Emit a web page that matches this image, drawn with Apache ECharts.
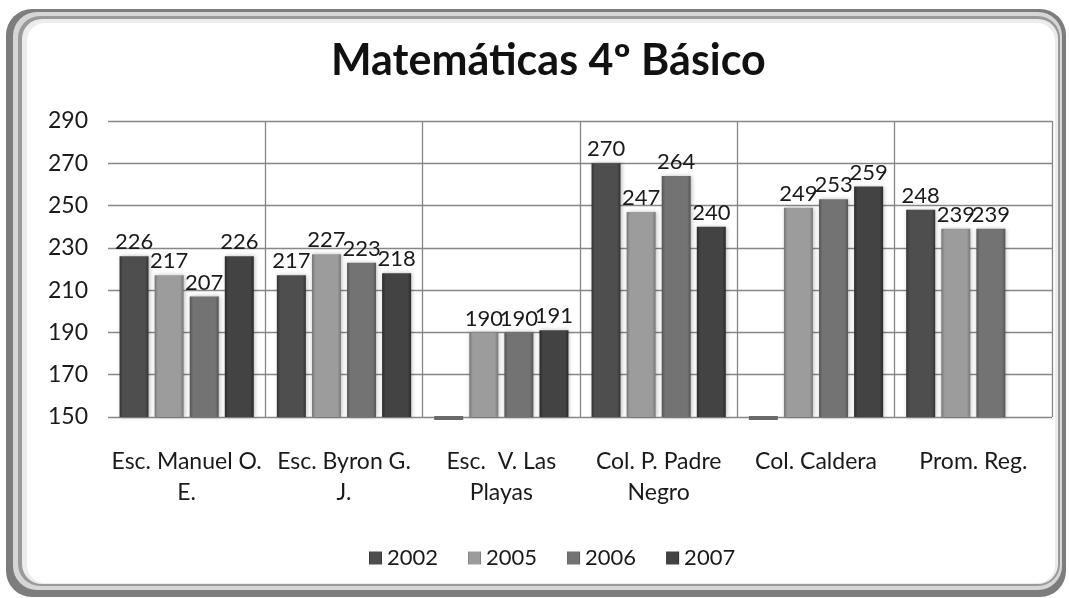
<!DOCTYPE html>
<html>
<head>
<meta charset="utf-8">
<title>Matemáticas 4º Básico</title>
<script src="https://cdn.jsdelivr.net/npm/echarts@6/dist/echarts.min.js"></script>
<style>
  html, body { margin: 0; padding: 0; background: #fff; }
  #chart { width: 1069px; height: 598px; }
</style>
</head>
<body>
<div id="chart"></div>
<script>
// categorias (escuelas) y puntajes por año
var schools = ['Esc. Manuel O.\nE.', 'Esc. Byron G.\nJ.', 'Esc.  V. Las\nPlayas', 'Col. P. Padre\nNegro', 'Col. Caldera', 'Prom. Reg.']
var years = ['2002', '2005', '2006', '2007']
// 150 = sin dato (barra plana en la base), null = sin barra
var y2002 = [226, 217, 150, 270, 150, 248]
var y2005 = [217, 227, 190, 247, 249, 239]
var y2006 = [207, 223, 190, 264, 253, 239]
var y2007 = [226, 218, 191, 240, 259, null]
var yTicks = [150, 170, 190, 210, 230, 250, 270, 290]

var font = 'Lato, "Open Sans", sans-serif'
var barW = 29

function barColor(base, edge) {
  return {
    type: 'linear', x: 0, y: 0, x2: 1, y2: 0,
    colorStops: [
      { offset: 0, color: edge },
      { offset: 0.12, color: base },
      { offset: 0.5, color: base },
      { offset: 0.88, color: base },
      { offset: 1, color: edge }
    ]
  }
}

var colors = [
  barColor('#4e4e4e', '#333'),
  barColor('#9c9c9c', '#777'),
  barColor('#737373', '#555'),
  barColor('#434343', '#2a2a2a')
]
var legendColors = ['#4a4a4a', '#969696', '#6e6e6e', '#3f3f3f']

function makeSeries(name, data, i) {
  // sin dato: una tapa plana sobre la base, como en la planilla
  var flat = []
  data.forEach(function (v, k) {
    if (v === yTicks[0]) flat.push({ coord: [k, v] })
  })
  return {
    name: name,
    type: 'bar',
    data: data,
    barWidth: barW,
    barGap: '21%',
    itemStyle: {
      color: colors[i],
      shadowColor: 'rgba(0,0,0,0.25)',
      shadowBlur: 4,
      shadowOffsetX: 1
    },
    label: {
      show: true,
      position: 'top',
      distance: 3,
      fontFamily: font,
      fontSize: 22,
      color: '#1a1a1a',
      formatter: function (p) {
        return p.value > yTicks[0] ? p.value : ''
      }
    },
    markPoint: {
      silent: true,
      symbol: 'rect',
      symbolSize: [barW, 4],
      symbolOffset: [0, 1],
      itemStyle: { color: '#6a6a6a' },
      label: { show: false },
      data: flat
    }
  }
}

var chart = echarts.init(document.getElementById('chart'))
chart.setOption({
  animation: false,
  color: legendColors,
  graphic: [
    {
      type: 'rect', z: -10, silent: true,
      shape: { x: 6, y: 9, width: 1060, height: 588, r: 26 },
      style: { fill: '#7d7d7d' }
    },
    {
      type: 'rect', z: -9, silent: true,
      shape: { x: 13, y: 12, width: 1049, height: 578, r: 24 },
      style: { fill: '#d6d6d6' }
    },
    {
      type: 'rect', z: -8, silent: true,
      shape: { x: 18, y: 16, width: 1042, height: 570, r: 22 },
      style: { fill: '#9a9a9a' }
    },
    {
      type: 'rect', z: -7, silent: true,
      shape: { x: 22, y: 19, width: 1036, height: 565, r: 20 },
      style: { fill: '#ececec' }
    },
    {
      type: 'rect', z: -6, silent: true,
      shape: { x: 27, y: 23, width: 1028, height: 560, r: 18 },
      style: { fill: '#ffffff' }
    }
  ],
  title: {
    text: 'Matemáticas 4º Básico',
    left: 326,
    top: 35,
    textStyle: {
      fontFamily: font,
      fontSize: 43,
      fontWeight: 'bold',
      color: '#111'
    }
  },
  legend: {
    data: years,
    bottom: 24,
    left: 364,
    icon: 'rect',
    itemWidth: 13,
    itemHeight: 13,
    itemGap: 30,
    textStyle: {
      fontFamily: font,
      fontSize: 22,
      color: '#1a1a1a'
    }
  },
  grid: {
    left: 108,
    right: 17,
    top: 121,
    bottom: 181,
    containLabel: false
  },
  xAxis: {
    type: 'category',
    data: schools,
    boundaryGap: true,
    axisLine: { show: false },
    axisTick: { show: false },
    axisLabel: {
      interval: 0,
      margin: 29,
      fontFamily: font,
      fontSize: 23,
      lineHeight: 31,
      color: '#1a1a1a'
    },
    splitLine: {
      show: true,
      showMinLine: false,
      interval: 0,
      lineStyle: { color: '#868686', width: 1.3 }
    }
  },
  yAxis: {
    type: 'value',
    min: yTicks[0],
    max: yTicks[yTicks.length - 1],
    interval: 20,
    axisLine: { show: false },
    axisTick: { show: false },
    axisLabel: {
      margin: 20,
      fontFamily: font,
      fontSize: 23,
      color: '#1a1a1a'
    },
    splitLine: {
      show: true,
      lineStyle: { color: '#868686', width: 1.3 }
    }
  },
  series: [
    makeSeries(years[0], y2002, 0),
    makeSeries(years[1], y2005, 1),
    makeSeries(years[2], y2006, 2),
    makeSeries(years[3], y2007, 3)
  ]
})
</script>
</body>
</html>
